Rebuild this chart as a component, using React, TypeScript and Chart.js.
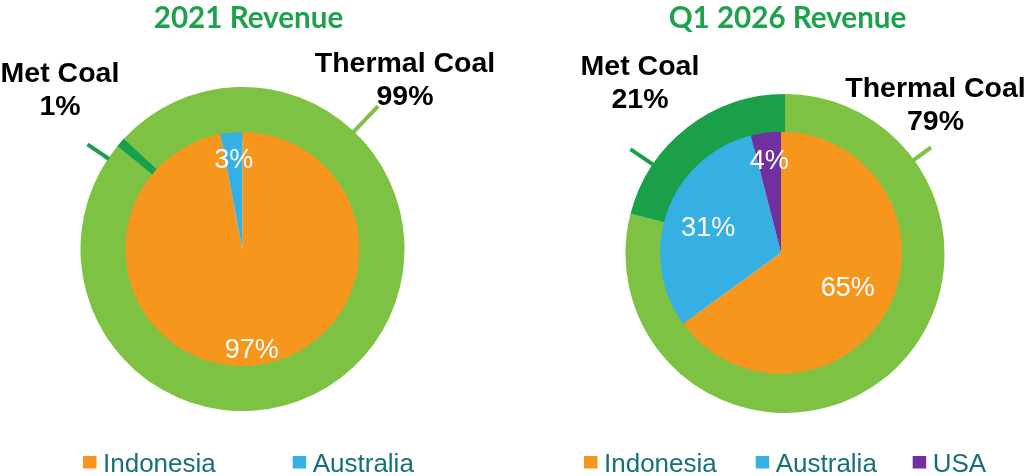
import React, { useEffect, useRef } from 'react';
import { Chart, registerables } from 'chart.js';

Chart.register(...registerables);

// ---------- data ----------
const segmentLabels = ['Thermal Coal', 'Met Coal'];
const segmentShare2021 = [99, 1];
const segmentShareQ1 = [79, 21];
const countries2021 = ['Indonesia', 'Australia'];
const countryShare2021 = [97, 3];
const countriesQ1 = ['Indonesia', 'Australia', 'USA'];
const countryShareQ1 = [65, 31, 4];
const panelTitles = ['2021 Revenue', 'Q1 2026 Revenue'];

// ---------- styles ----------
const W = 515;
const H = 476;
const LIGHT_GREEN = '#7DC242';
const DARK_GREEN = '#1BA049';
const TITLE_GREEN = '#1DA24B';
const LEGEND_TEXT = '#16707A';
const COUNTRY_COLORS: Record<string, string> = {
  Indonesia: '#F7961D',
  Australia: '#36B0E2',
  USA: '#7030A0',
};
const SEGMENT_COLORS = [LIGHT_GREEN, DARK_GREEN];
const ARIAL = "'Liberation Sans', Arial, sans-serif";

interface Pad { left: number; right: number; top: number; bottom: number }
interface OuterLabel { dx: number; dy: number; lineAngle: number; lineFrom: number; lineTo: number }
interface PanelCfg {
  left: number;
  title: string;
  titleX: number;
  segValues: number[];
  countries: string[];
  countryValues: number[];
  ringPadding: Pad;
  piePadding: Pad;
  ringRotation: number;
  innerLabelRadius: number[];
  outerLabels: OuterLabel[];
  legendX: number[];
}

const panels: PanelCfg[] = [
  {
    left: 0,
    title: panelTitles[0],
    titleX: 248.5,
    segValues: segmentShare2021,
    countries: countries2021,
    countryValues: countryShare2021,
    ringPadding: { left: 80.5, right: 110.5, top: 87, bottom: 65 },
    piePadding: { left: 125.3, right: 155.7, top: 132, bottom: 110 },
    ringRotation: -47,
    innerLabelRadius: [0.855, 0.78],
    outerLabels: [
      { dx: 162.5, dy: -177.3, lineAngle: 43.5, lineFrom: -1, lineTo: 35 },
      { dx: -182.5, dy: -166.7, lineAngle: 304, lineFrom: -1, lineTo: 25 },
    ],
    legendX: [83, 292.7],
  },
  {
    left: 515,
    title: panelTitles[1],
    titleX: 272.5,
    segValues: segmentShareQ1,
    countries: countriesQ1,
    countryValues: countryShareQ1,
    ringPadding: { left: 110.5, right: 85.5, top: 94, bottom: 63 },
    piePadding: { left: 145, right: 128, top: 131.7, bottom: 102.3 },
    ringRotation: 0,
    innerLabelRadius: [0.62, 0.64, 0.78],
    outerLabels: [
      { dx: 150.5, dy: -156.5, lineAngle: 54, lineFrom: -1, lineTo: 21 },
      { dx: -145, dy: -178.5, lineAngle: 304, lineFrom: 0, lineTo: 27 },
    ],
    legendX: [69, 240.7, 397.7],
  },
];

function Panel({ cfg }: { cfg: PanelCfg }) {
  const ringRef = useRef<HTMLCanvasElement>(null);
  const pieRef = useRef<HTMLCanvasElement>(null);

  useEffect(() => {
    const ring = new Chart(ringRef.current as HTMLCanvasElement, {
      type: 'doughnut',
      data: {
        labels: segmentLabels,
        datasets: [{ data: cfg.segValues, backgroundColor: SEGMENT_COLORS, borderWidth: 0 }],
      },
      options: {
        responsive: false,
        animation: false,
        devicePixelRatio: 1,
        events: [],
        rotation: cfg.ringRotation,
        cutout: '68%',
        layout: { padding: cfg.ringPadding },
        plugins: { legend: { display: false }, tooltip: { enabled: false } },
      },
    });

    const overlay = {
      id: 'overlay',
      afterDraw(chart: any) {
        const ctx: CanvasRenderingContext2D = chart.ctx;
        ctx.save();

        // title
        ctx.font = `bold 29.6px Lato, ${ARIAL}`;
        ctx.fillStyle = TITLE_GREEN;
        ctx.textAlign = 'center';
        ctx.textBaseline = 'alphabetic';
        ctx.fillText(cfg.title, cfg.titleX, 28.2);

        // inner labels
        const meta = chart.getDatasetMeta(0);
        const innerSize = 27;
        ctx.font = `${innerSize}px ${ARIAL}`;
        ctx.fillStyle = '#FFFFFF';
        meta.data.forEach((el: any, i: number) => {
          const a = (el.startAngle + el.endAngle) / 2;
          const r = el.outerRadius * cfg.innerLabelRadius[i];
          const px = el.x + Math.cos(a) * r;
          const py = el.y + Math.sin(a) * r;
          ctx.fillText(`${cfg.countryValues[i]}%`, px, py + innerSize * 0.358);
        });

        // outer labels + leader lines
        const ringArc: any = ring.getDatasetMeta(0).data[0];
        const cx = ringArc.x;
        const cy = ringArc.y;
        const R = ringArc.outerRadius;
        cfg.outerLabels.forEach((lab, i) => {
          const t = (lab.lineAngle * Math.PI) / 180;
          ctx.strokeStyle = SEGMENT_COLORS[i];
          ctx.lineWidth = 4;
          ctx.lineCap = 'butt';
          ctx.beginPath();
          ctx.moveTo(cx + Math.sin(t) * (R + lab.lineFrom), cy - Math.cos(t) * (R + lab.lineFrom));
          ctx.lineTo(cx + Math.sin(t) * (R + lab.lineTo), cy - Math.cos(t) * (R + lab.lineTo));
          ctx.stroke();

          ctx.font = `bold 28.5px ${ARIAL}`;
          ctx.fillStyle = '#000000';
          ctx.textAlign = 'center';
          ctx.fillText(segmentLabels[i], cx + lab.dx, cy + lab.dy);
          ctx.fillText(`${cfg.segValues[i]}%`, cx + lab.dx, cy + lab.dy + 33);
        });

        // legend
        ctx.font = `26px ${ARIAL}`;
        ctx.textAlign = 'left';
        cfg.countries.forEach((c, i) => {
          const x = cfg.legendX[i];
          ctx.fillStyle = COUNTRY_COLORS[c];
          ctx.fillRect(x, 456, 13.5, 12.5);
          ctx.fillStyle = LEGEND_TEXT;
          ctx.fillText(c, x + 20, 471.6);
        });

        ctx.restore();
      },
    };

    const pie = new Chart(pieRef.current as HTMLCanvasElement, {
      type: 'pie',
      data: {
        labels: cfg.countries,
        datasets: [
          {
            data: cfg.countryValues,
            backgroundColor: cfg.countries.map((c) => COUNTRY_COLORS[c]),
            borderWidth: 0,
          },
        ],
      },
      options: {
        responsive: false,
        animation: false,
        devicePixelRatio: 1,
        events: [],
        layout: { padding: cfg.piePadding },
        plugins: { legend: { display: false }, tooltip: { enabled: false } },
      },
      plugins: [overlay],
    });

    return () => {
      pie.destroy();
      ring.destroy();
    };
  }, [cfg]);

  return (
    <div style={{ position: 'absolute', left: cfg.left, top: 0, width: W, height: H }}>
      <canvas ref={ringRef} width={W} height={H} style={{ position: 'absolute', left: 0, top: 0 }} />
      <canvas ref={pieRef} width={W} height={H} style={{ position: 'absolute', left: 0, top: 0 }} />
    </div>
  );
}

export default function App() {
  return (
    <div style={{ position: 'absolute', left: 0, top: 0, width: 1030, height: 476, background: '#FFFFFF', overflow: 'hidden' }}>
      {panels.map((p) => (
        <Panel key={p.title} cfg={p} />
      ))}
    </div>
  );
}
